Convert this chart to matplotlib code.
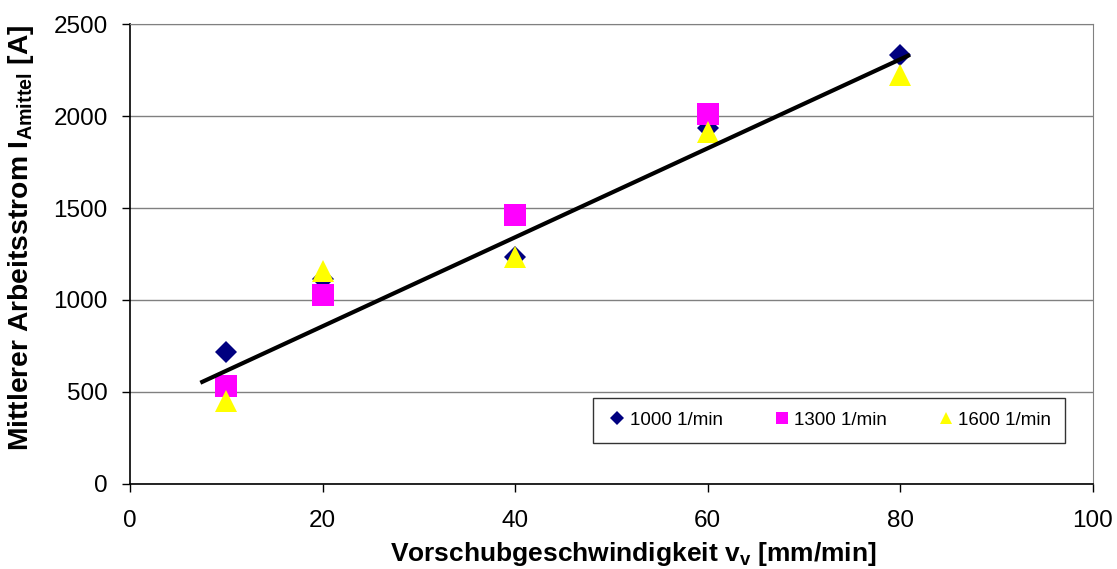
import numpy as np
import matplotlib
matplotlib.use("Agg")
import matplotlib.pyplot as plt

plt.rcParams['font.family'] = ['Liberation Sans', 'DejaVu Sans']
plt.rcParams['mathtext.fontset'] = 'custom'
plt.rcParams['mathtext.rm'] = 'Liberation Sans'
plt.rcParams['mathtext.bf'] = 'Liberation Sans:bold'

x_1000 = [10, 20, 40, 60, 80]
y_1000 = [720, 1115, 1236, 1933, 2331]
x_1300 = [10, 20, 40, 60]
y_1300 = [530, 1025, 1460, 2010]
x_1600 = [10, 20, 40, 60, 80]
y_1600 = [450, 1160, 1236, 1912, 2225]

trend_x = [7.5, 80.8]
trend_y = [555, 2328]

labels = ["1000 1/min", "1300 1/min", "1600 1/min"]

fig = plt.figure(figsize=(11.17, 5.69), dpi=100)
ax = fig.add_axes([0.1164, 0.1494, 0.8621, 0.8084])

ax.plot(x_1000, y_1000, linestyle='none', marker='D', markersize=11.2,
        color='#000080', markeredgewidth=0, label=labels[0], zorder=3)
ax.plot(x_1300, y_1300, linestyle='none', marker='s', markersize=15.5,
        color='#ff00ff', markeredgewidth=0, label=labels[1], zorder=3)
ax.plot(x_1600, y_1600, linestyle='none', marker='^', markersize=15.5,
        color='#ffff00', markeredgewidth=0, label=labels[2], zorder=3)
ax.plot(trend_x, trend_y, color='black', linewidth=3, zorder=4)

ax.set_xlim(0, 100)
ax.set_ylim(0, 2500)
ax.set_xticks(np.arange(0, 101, 20))
ax.set_yticks(np.arange(0, 2501, 500))
ax.yaxis.grid(True, color='#808080', linewidth=1)
ax.set_axisbelow(True)
ax.tick_params(direction='out', length=6, width=1, labelsize=17.5, colors='black')
ax.tick_params(axis='x', pad=13)
ax.tick_params(axis='y', pad=10)

for s in ['top', 'right']:
    ax.spines[s].set_color('#808080')
for s in ['left', 'bottom']:
    ax.spines[s].set_color('black')
    ax.spines[s].set_linewidth(1.2)

ax.set_xlabel(r"Vorschubgeschwindigkeit v$_\mathbf{v}$ [mm/min]",
              fontsize=19, fontweight='bold', va='center')
ax.set_ylabel(r"Mittlerer Arbeitsstrom I$_\mathbf{Amittel}$ [A]",
              fontsize=20.3, fontweight='bold', va='center')
ax.xaxis.set_label_coords(0.523, -0.152)
ax.yaxis.set_label_coords(-0.113, 0.535)

leg = ax.legend(loc='lower right', ncol=3, bbox_to_anchor=(0.971, 0.089),
                fontsize=13.5, markerscale=0.6, handletextpad=0.1,
                handlelength=1.1, columnspacing=2.6, frameon=True,
                fancybox=False, borderpad=0.75, borderaxespad=0)
leg.get_frame().set_edgecolor('black')
leg.get_frame().set_linewidth(1)

plt.savefig('out.png', dpi=100)
